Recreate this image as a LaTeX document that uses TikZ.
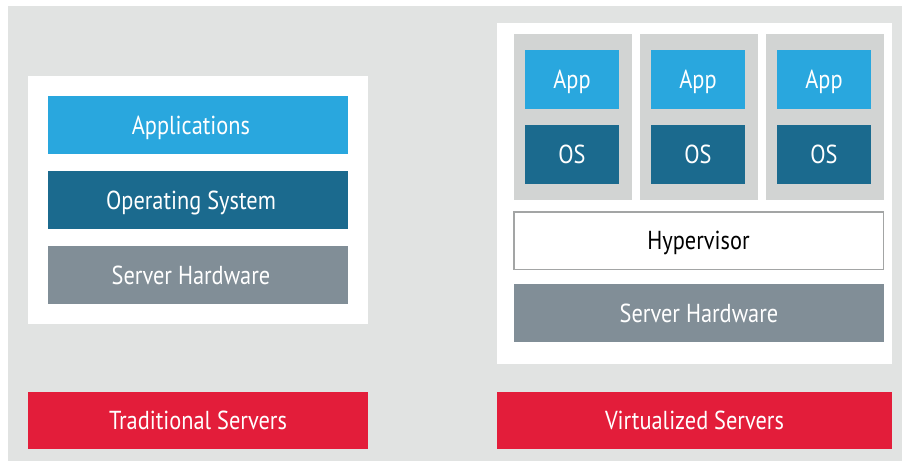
\documentclass[tikz,border=0pt]{standalone}
\usepackage{fontspec}
\setmainfont{PT Sans}[FakeStretch=0.86]
\definecolor{bggray}{HTML}{E1E3E2}
\definecolor{colgray}{HTML}{D2D4D3}
\definecolor{appblue}{HTML}{29A7DE}
\definecolor{osblue}{HTML}{1B6A8E}
\definecolor{hwgray}{HTML}{818E97}
\definecolor{labred}{HTML}{E31D3A}
\definecolor{hypborder}{HTML}{A3A5A5}
\begin{document}
\begin{tikzpicture}[x=1pt,y=-1pt,
  every node/.style={inner sep=0pt, outer sep=0pt, text height=18pt, text depth=0pt, font=\fontsize{26}{30}\selectfont},
  panel/.style={fill=white, minimum width=#1},
  layer/.style={minimum width=#1, minimum height=58pt, text=white},
  applayer/.style={layer=#1, fill=appblue},
  oslayer/.style={layer=#1, fill=osblue},
  hwlayer/.style={layer=#1, fill=hwgray},
  caption/.style={minimum width=#1, minimum height=57pt, fill=labred, text=white},
  vmcol/.style={fill=colgray, minimum width=118pt, minimum height=166pt},
  vmbox/.style={minimum width=94pt, minimum height=59pt, text=white},
  hyp/.style={fill=white, draw=hypborder, line width=1.5pt, minimum width=369.5pt, minimum height=57.5pt, text=black}
]
\useasboundingbox (0,0) rectangle (902,461);
\fill[white] (0,0) rectangle (902,461);
\fill[bggray] (8,6) rectangle (902,461);

% traditional side
\node[panel=340pt, minimum height=248pt] (lpanel) at (198,200) {};
\node[applayer=300pt] (lapp) at (198,125) {Applications\kern14pt};
\node[oslayer=300pt] (los) at (198,200) {Operating System\kern14pt};
\node[hwlayer=300pt] (lhw) at (198,275) {Server Hardware\kern14pt};
\node[caption=340pt] (ltitle) at (198,420.5) {Traditional Servers};

% virtualized side
\node[panel=395pt, minimum height=341pt] (rpanel) at (694.5,193.5) {};
\foreach \i/\cx in {1/573,2/699,3/825}{
  \node[vmcol] (col\i) at (\cx,117) {};
  \node[vmbox, fill=appblue] (app\i) at (\cx-1,79.5) {App};
  \node[vmbox, fill=osblue] (os\i) at (\cx-1,154.5) {OS};
}
\node[hyp] (hyp) at (698.5,240.5) {Hypervisor};
\node[hwlayer=370pt] (rhw) at (699,313) {Server Hardware};
\node[caption=395pt] (rtitle) at (694.5,420.5) {Virtualized Servers};
\end{tikzpicture}
\end{document}
